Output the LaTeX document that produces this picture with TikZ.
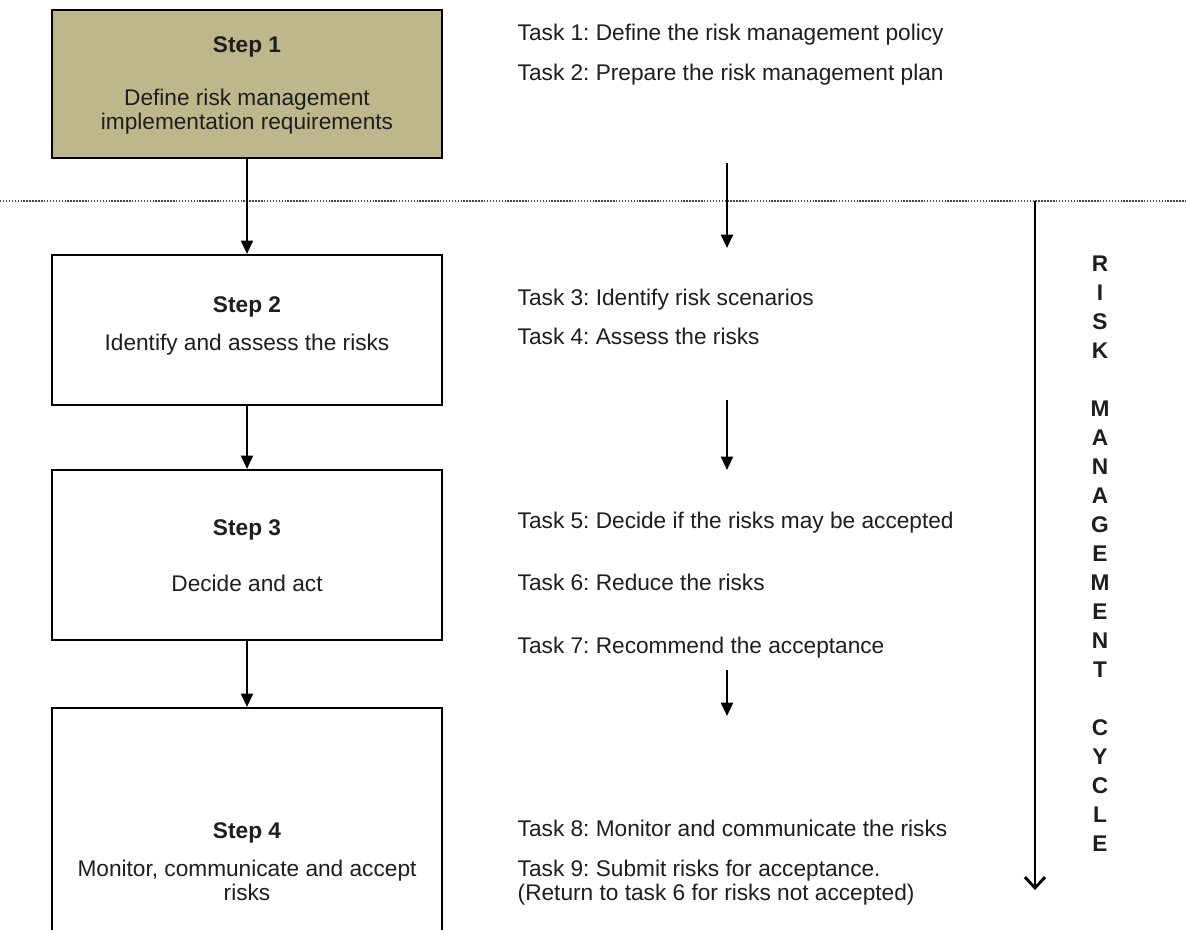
\documentclass[tikz,border=0pt]{standalone}
\usepackage{fontspec}
\setmainfont{Liberation Sans}
\usetikzlibrary{arrows.meta}
\frenchspacing

\definecolor{color1}{RGB}{255,255,255}
\definecolor{color2}{RGB}{189,183,139}
\definecolor{color3}{RGB}{0,0,0}
\definecolor{color4}{RGB}{30,30,30}
\definecolor{color5}{RGB}{70,70,70}

\tikzset{
	stepbox/.style={draw=color3, line width=1.6pt, minimum width=292.5pt, inner sep=0pt},
	steptitle/.style={anchor=base, font=\bfseries\fontsize{17}{18}\selectfont, color=color4},
	steptext/.style={anchor=base, align=center, font=\fontsize{17}{18}\selectfont, color=color4},
	tasktext/.style={anchor=base west, align=left, font=\fontsize{17}{18}\selectfont, color=color4},
	flowarrow/.style={color=color3, line width=1.5pt, -{Triangle[length=10pt,width=9pt]}},
	cyclearrow/.style={color=color3, line width=2.2pt, -{Straight Barb[length=8pt,width=15pt]}},
	sepline/.style={color=color5, line width=1.5pt, dash pattern=on 1.1pt off 1.1pt},
}

\begin{document}
\begin{tikzpicture}[x=0.75pt, y=-0.75pt]
	\clip (0,0) rectangle (1186,930);
	\fill[color1] (0,0) rectangle (1186,930);
	% separator
	\coordinate (d1) at (0,201);
	\coordinate (d2) at (1186,201);
	\draw[sepline] (d1) -- (d2);
	% step boxes
	\node[stepbox, fill=color2, minimum height=111pt] (n1) at (247,84) {};
	\node[steptitle] (t1) at (247,53) {Step 1};
	\node[steptext] (b1) at (247,130) {Define risk management\\implementation requirements};
	\node[stepbox, fill=color1, minimum height=112.5pt] (n2) at (247,330) {};
	\node[steptitle] (t2) at (247,313) {Step 2};
	\node[steptext] (b2) at (247,351) {Identify and assess the risks};
	\node[stepbox, fill=color1, minimum height=127.5pt] (n3) at (247,555) {};
	\node[steptitle] (t3) at (247,536) {Step 3};
	\node[steptext] (b3) at (247,591) {Decide and act};
	\node[stepbox, fill=color1, minimum height=181.5pt] (n4) at (247,829) {};
	\node[steptitle] (t4) at (247,838) {Step 4};
	\node[steptext] (b4) at (247,900) {Monitor, communicate and accept\\risks};
	\draw[flowarrow] (n1.south) -- (n2.north);
	\draw[flowarrow] (n2.south) -- (n3.north);
	\draw[flowarrow] (n3.south) -- (n4.north);
	% tasks
	\node[tasktext] (k1) at (513,41) {Task 1: Define the risk management policy};
	\node[tasktext] (k2) at (513,81) {Task 2: Prepare the risk management plan};
	\node[tasktext] (k3) at (513,306) {Task 3: Identify risk scenarios};
	\node[tasktext] (k4) at (513,345) {Task 4: Assess the risks};
	\node[tasktext] (k5) at (513,528) {Task 5: Decide if the risks may be accepted};
	\node[tasktext] (k6) at (513,590) {Task 6: Reduce the risks};
	\node[tasktext] (k7) at (513,653) {Task 7: Recommend the acceptance};
	\node[tasktext] (k8) at (513,836) {Task 8: Monitor and communicate the risks};
	\node[tasktext] (k9) at (513,900) {Task 9: Submit risks for acceptance.\\(Return to task 6 for risks not accepted)};
	\coordinate (a1) at (727,163);
	\coordinate (a2) at (727,248);
	\coordinate (a3) at (727,400);
	\coordinate (a4) at (727,470);
	\coordinate (a5) at (727,670);
	\coordinate (a6) at (727,716);
	\draw[flowarrow] (a1) -- (a2);
	\draw[flowarrow] (a3) -- (a4);
	\draw[flowarrow] (a5) -- (a6);
	% cycle
	\coordinate (c1) at (1035,201);
	\coordinate (c2) at (1035,890);
	\draw[cyclearrow] (c1) -- (c2);
	\node[anchor=north, inner sep=0pt, align=center, font=\bfseries\fontsize{17}{21.75}\selectfont, color=color4] (cy) at (1100,256)
		{R\\I\\S\\K\\[21.75pt]M\\A\\N\\A\\G\\E\\M\\E\\N\\T\\[21.75pt]C\\Y\\C\\L\\E};
\end{tikzpicture}
\end{document}
